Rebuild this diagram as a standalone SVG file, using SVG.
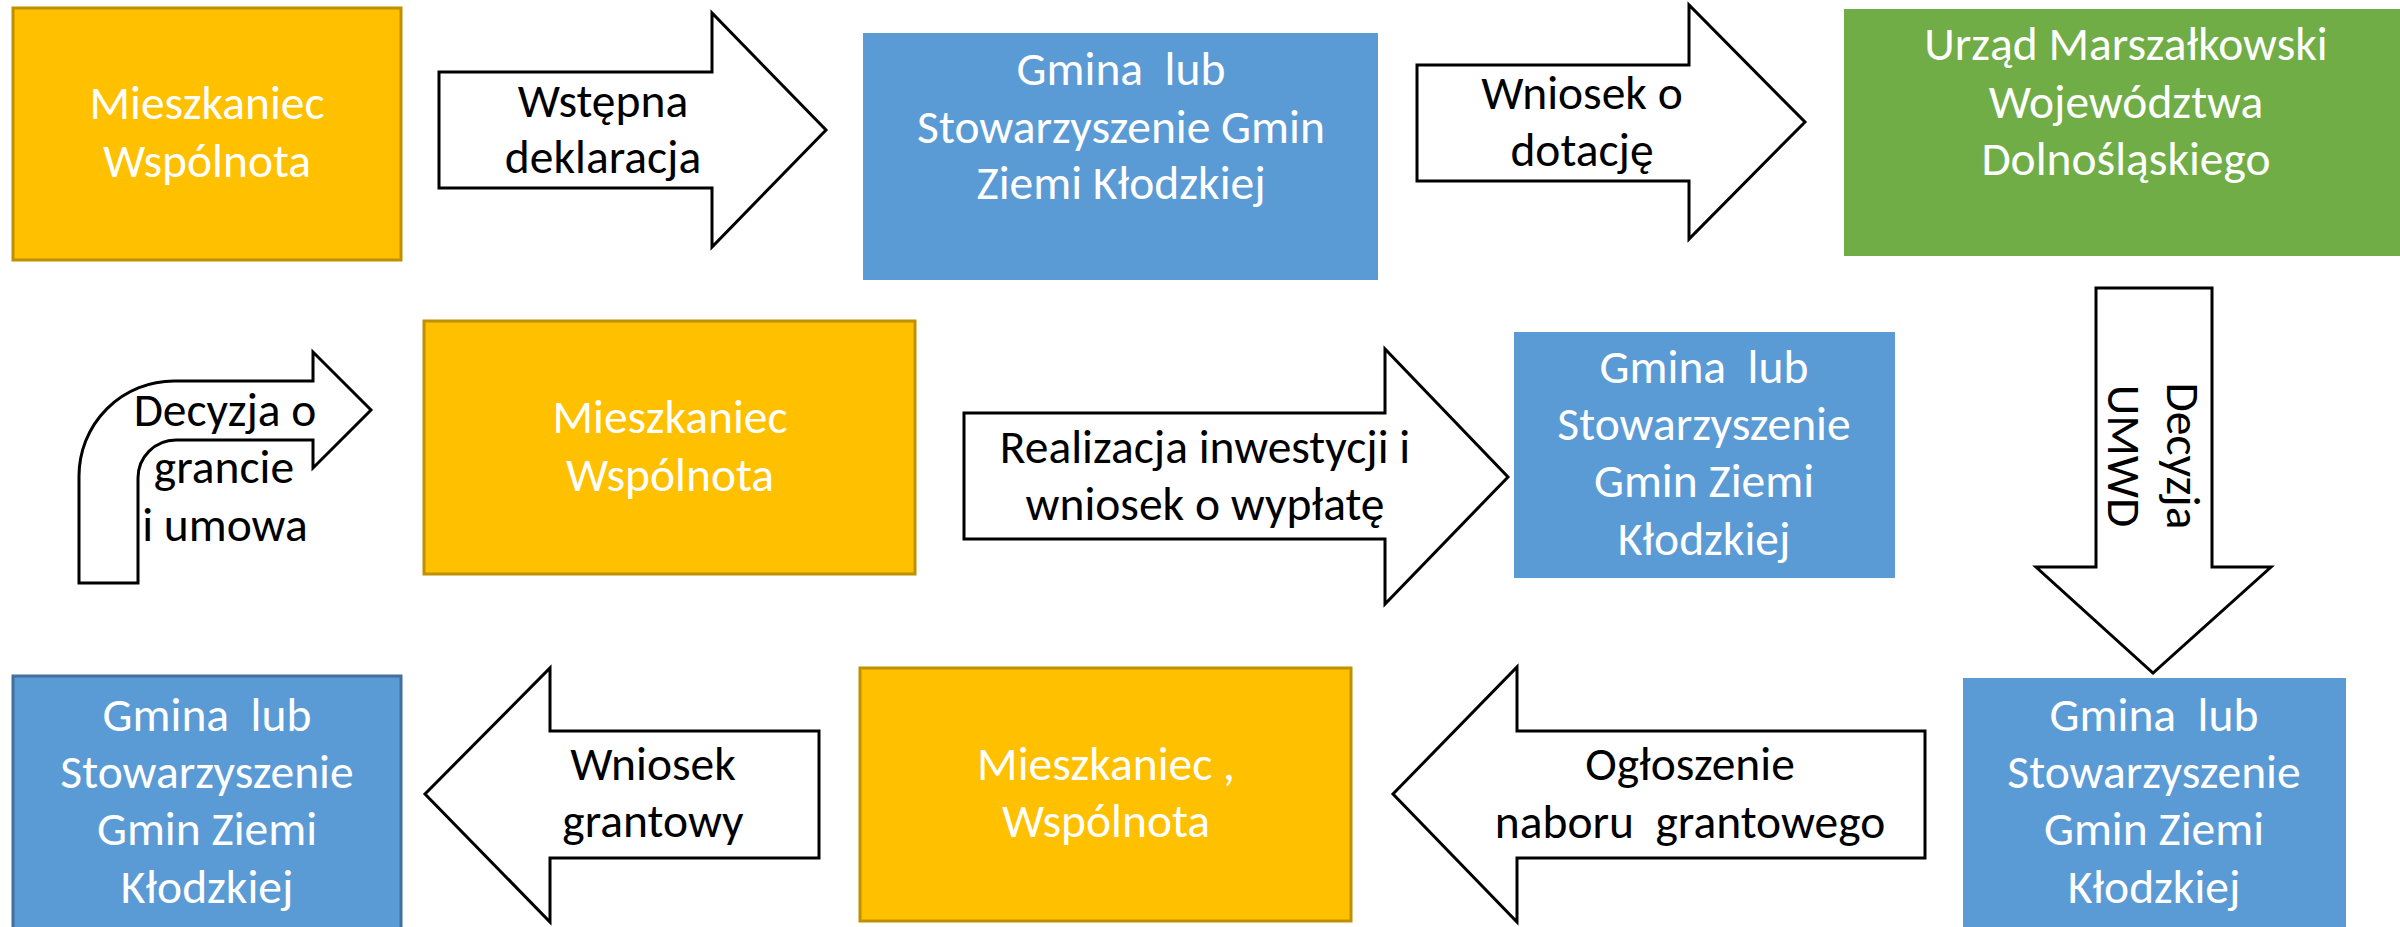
<svg xmlns="http://www.w3.org/2000/svg" width="2400" height="927" viewBox="0 0 2400 927">
<style>
.org{fill:#FFC000;stroke:#BF9000;stroke-width:3}
.blu{fill:#5B9BD5}
.bluB{fill:#5B9BD5;stroke:#41719C;stroke-width:3}
.grn{fill:#70AD47}
.arr{fill:#FFFFFF;stroke:#000000;stroke-width:3;stroke-linejoin:miter}
text{font-family:Carlito,Lato,"Open Sans",sans-serif;font-size:47.5px;text-anchor:middle}
.w{fill:#FFFFFF}
.k{fill:#000000}
</style>
<rect width="2400" height="927" fill="#FFFFFF"/>
<g id="connectors">
  <g id="a1"><path class="arr" d="M439,72 H712 V13 L826,130 L712,247 V188 H439 Z"/>
    <text class="k" x="603" y="117">Wstępna</text><text class="k" x="603" y="173">deklaracja</text></g>
  <g id="a2"><path class="arr" d="M1417,65 H1689 V5 L1805,122 L1689,239 V181 H1417 Z"/>
    <text class="k" x="1582" y="109">Wniosek o</text><text class="k" x="1582" y="166">dotację</text></g>
  <g id="a3"><path class="arr" d="M2096,288 H2212 V567 H2271 L2153,673 L2036,567 H2096 Z"/>
    <g transform="translate(2153,456) rotate(90)"><text class="k" x="0" y="-14">Decyzja</text><text class="k" x="0" y="45">UMWD</text></g></g>
  <g id="a4"><path class="arr" d="M1925,731 H1517 V667 L1393,794 L1517,922 V858 H1925 Z"/>
    <text class="k" x="1690" y="780">Ogłoszenie</text><text class="k" x="1690" y="838" xml:space="preserve">naboru  grantowego</text></g>
  <g id="a5"><path class="arr" d="M819,731 H550 V668 L425,794 L550,922 V858 H819 Z"/>
    <text class="k" x="653" y="780">Wniosek</text><text class="k" x="653" y="837">grantowy</text></g>
  <g id="a6"><path class="arr" d="M79,583 V476 A95,95 0 0 1 174,381 H313 V352 L371,410 L313,468 V440 H176 A38,38 0 0 0 138,478 V583 Z"/>
    <text class="k" x="225" y="426">Decyzja o</text><text class="k" x="224" y="483">grancie</text><text class="k" x="225" y="541">i umowa</text></g>
  <g id="a7"><path class="arr" d="M964,413 H1385 V349 L1508,477 L1385,604 V539 H964 Z"/>
    <text class="k" x="1205" y="463">Realizacja inwestycji i</text><text class="k" x="1205" y="520">wniosek o wypłatę</text></g>
</g>
<g id="n1"><rect class="org" x="13" y="8" width="388" height="252"/>
  <text class="w" x="207" y="119">Mieszkaniec</text><text class="w" x="207" y="177">Wspólnota</text></g>
<g id="n2"><rect class="blu" x="863" y="33" width="515" height="247"/>
  <text class="w" x="1121" y="85" xml:space="preserve">Gmina  lub</text><text class="w" x="1121" y="143">Stowarzyszenie Gmin</text><text class="w" x="1121" y="199">Ziemi Kłodzkiej</text></g>
<g id="n3"><rect class="grn" x="1844" y="9" width="556" height="247"/>
  <text class="w" x="2126" y="60">Urząd Marszałkowski</text><text class="w" x="2126" y="118">Województwa</text><text class="w" x="2126" y="175">Dolnośląskiego</text></g>
<g id="n4"><rect class="blu" x="1963" y="678" width="383" height="249"/>
  <text class="w" x="2154" y="731" xml:space="preserve">Gmina  lub</text><text class="w" x="2154" y="788">Stowarzyszenie</text><text class="w" x="2154" y="845">Gmin Ziemi</text><text class="w" x="2154" y="903">Kłodzkiej</text></g>
<g id="n5"><rect class="org" x="860" y="668" width="491" height="253"/>
  <text class="w" x="1106" y="780">Mieszkaniec ,</text><text class="w" x="1106" y="837">Wspólnota</text></g>
<g id="n6"><rect class="bluB" x="13" y="676" width="388" height="253"/>
  <text class="w" x="207" y="731" xml:space="preserve">Gmina  lub</text><text class="w" x="207" y="788">Stowarzyszenie</text><text class="w" x="207" y="845">Gmin Ziemi</text><text class="w" x="207" y="903">Kłodzkiej</text></g>
<g id="n7"><rect class="org" x="424" y="321" width="491" height="253"/>
  <text class="w" x="670" y="433">Mieszkaniec</text><text class="w" x="670" y="491">Wspólnota</text></g>
<g id="n8"><rect class="blu" x="1514" y="332" width="381" height="246"/>
  <text class="w" x="1704" y="383" xml:space="preserve">Gmina  lub</text><text class="w" x="1704" y="440">Stowarzyszenie</text><text class="w" x="1704" y="497">Gmin Ziemi</text><text class="w" x="1704" y="555">Kłodzkiej</text></g>
</svg>
